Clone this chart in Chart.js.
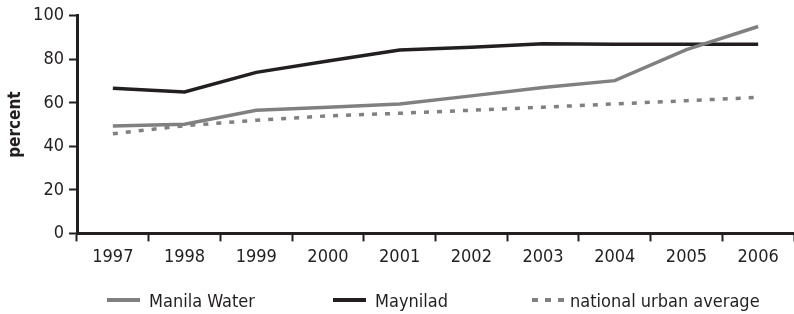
<!DOCTYPE html>
<html>
<head>
<meta charset="utf-8">
<script src="https://cdn.jsdelivr.net/npm/chart.js@4"></script>
<style>
  body { margin: 0; background: #fff; }
  #wrap { position: relative; width: 794px; height: 314px; }
  #legend { position: absolute; left: 0; top: 288px; width: 794px; height: 24px;
    font-family: "Liberation Sans Narrow", "DejaVu Sans Condensed", sans-serif; font-size: 18px; color: #231f20; }
  .item { position: absolute; top: 0; display: flex; align-items: center; height: 24px; }
  .sw { display: inline-block; width: 33px; height: 0; margin-right: 9px; }
</style>
</head>
<body>
<div id="wrap">
  <canvas id="lineChart" width="794" height="314"></canvas>
  <div id="legend">
    <div class="item" style="left:107px"><span class="sw" style="border-top:4px solid #808080"></span>Manila Water</div>
    <div class="item" style="left:333px"><span class="sw" style="border-top:4px solid #231f20"></span>Maynilad</div>
    <div class="item" style="left:532px"><span class="sw" style="width:34px;margin-right:4px;height:4px;background:repeating-linear-gradient(90deg,#808080 0 6px,transparent 6px 13px)"></span>national urban average</div>
  </div>
</div>
<script>
// values
const years = ["1997", "1998", "1999", "2000", "2001", "2002", "2003", "2004", "2005", "2006"];
const manilaWater = [49.3, 50.2, 56.6, 58, 59.5, 63.2, 67, 70.2, 84.5, 95.1];
const maynilad = [66.7, 65, 74, 79.2, 84.3, 85.5, 87.2, 86.9, 86.9, 86.9];
const nationalAvg = [45.8, 49.5, 52, 54, 55.2, 56.6, 58, 59.5, 61, 62.5];

const ink = "#231f20";
const grey = "#808080";
const font = { family: "'Liberation Sans Narrow', 'DejaVu Sans Condensed', sans-serif", size: 18 };

const ctx = document.getElementById("lineChart").getContext("2d");
const lineChart = new Chart(ctx, {
  type: "line",
  data: {
    labels: years,
    datasets: [
      { label: "Manila Water", data: manilaWater, borderColor: grey, borderWidth: 3.5, pointRadius: 0, tension: 0, fill: false },
      { label: "Maynilad", data: maynilad, borderColor: ink, borderWidth: 3.5, pointRadius: 0, tension: 0, fill: false },
      { label: "national urban average", data: nationalAvg, borderColor: grey, borderWidth: 3.5, borderDash: [5, 8], pointRadius: 0, tension: 0, fill: false }
    ]
  },
  options: {
    responsive: false,
    animation: false,
    layout: { padding: { top: 4, right: 0, bottom: 41, left: 0 } },
    plugins: {
      legend: { display: false },
      tooltip: { enabled: false }
    },
    scales: {
      x: {
        offset: true,
        grid: { offset: true, drawOnChartArea: false, tickLength: 8, tickWidth: 2, tickColor: ink },
        border: { display: true, color: ink, width: 3 },
        ticks: { color: ink, font: font, padding: 5, maxRotation: 0 }
      },
      y: {
        min: 0,
        max: 100,
        ticks: { stepSize: 20, color: ink, font: font, padding: 5 },
        grid: { drawOnChartArea: false, tickLength: 8, tickWidth: 2, tickColor: ink },
        border: { display: true, color: ink, width: 3 },
        title: { display: true, text: "percent", color: ink, padding: { top: 5, bottom: 0 },
          font: { family: font.family, size: 17, weight: "bold" } },
        afterFit: (scale) => { scale.width = 77; }
      }
    }
  }
});
</script>
</body>
</html>
